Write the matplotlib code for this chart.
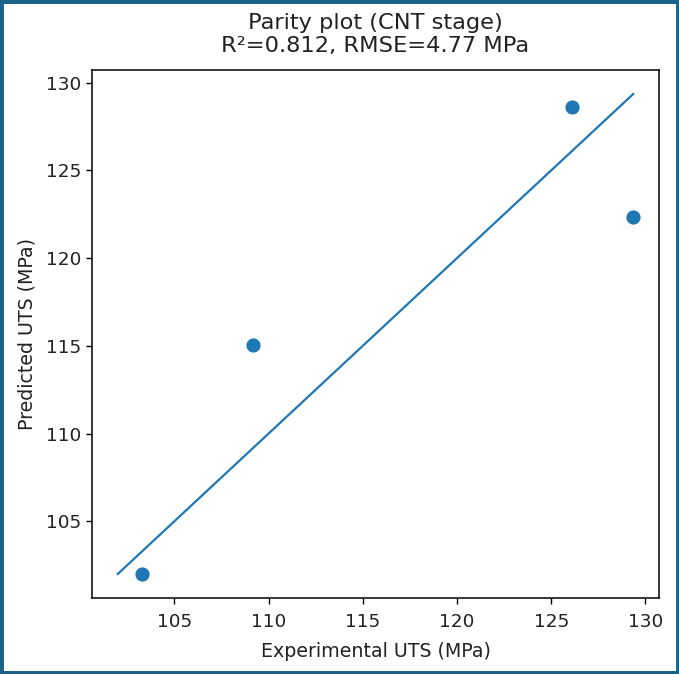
import numpy as np
import matplotlib
matplotlib.use("Agg")
import matplotlib.pyplot as plt
from matplotlib.patches import Rectangle

# experimental vs predicted UTS (MPa)
experimental = [103.3, 109.2, 126.1, 129.35]
predicted = [102.0, 115.05, 128.6, 122.35]
r2 = 0.812
rmse = 4.77

fig = plt.figure(figsize=(6.79, 6.74), dpi=100)
ax = fig.add_axes([0.1355, 0.1128, 0.835, 0.7833])

ax.scatter(experimental, predicted, s=85, color="#1f77b4")
lo = min(min(experimental), min(predicted))
hi = max(max(experimental), max(predicted))
ax.plot([lo, hi], [lo, hi], color="#1f77b4", lw=1.6)

ax.set_xlabel("Experimental UTS (MPa)", fontsize=13.7, color="#222222", labelpad=8)
ax.set_ylabel("Predicted UTS (MPa)", fontsize=13.7, color="#222222", labelpad=6.5)
ax.set_title("Parity plot (CNT stage)\nR\u00b2=%.3f, RMSE=%.2f MPa" % (r2, rmse),
             fontsize=16.2, color="#222222", pad=13)
ax.tick_params(labelsize=13.3, labelcolor="#222222", length=4.5, width=1)
ax.tick_params(axis="x", pad=6)
for sp in ax.spines.values():
    sp.set_linewidth(1.1)

# frame around the whole picture
fig.patches.append(Rectangle((0, 0), 1, 1, transform=fig.transFigure,
                             fill=False, edgecolor="#1b6289", lw=5))

fig.savefig("out.png", dpi=100)
